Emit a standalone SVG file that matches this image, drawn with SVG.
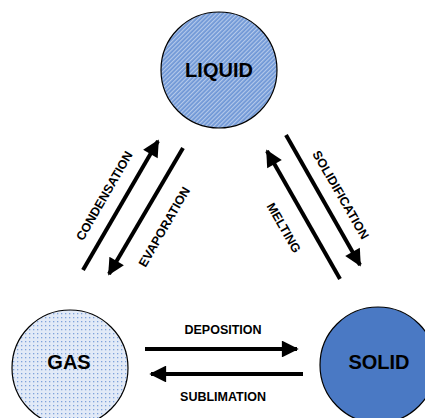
<svg xmlns="http://www.w3.org/2000/svg" width="425" height="418" viewBox="0 0 425 418">
<defs>
<pattern id="stripes" width="3" height="3" patternUnits="userSpaceOnUse" patternTransform="rotate(45)">
<rect width="3" height="3" fill="#6f97d6"/>
<rect width="1.2" height="3" fill="#b4c9ea"/>
</pattern>
<pattern id="dots" width="4" height="4" patternUnits="userSpaceOnUse">
<rect width="4" height="4" fill="#e2eaf7"/>
<rect x="1" y="1" width="1.3" height="1.3" fill="#7ea2db"/>
</pattern>
<marker id="ah" viewBox="0 0 10 10" refX="9" refY="5" markerWidth="5.5" markerHeight="4.2" markerUnits="strokeWidth" orient="auto">
<path d="M0,0 L10,5 L0,10 Z" fill="#000"/>
</marker>
<style>
.node circle{stroke:#000;stroke-width:1.2}
.nt{font-family:"Liberation Sans",Arial,sans-serif;font-weight:bold;font-size:20px;fill:#000;text-anchor:middle}
.lbl{font-family:"Liberation Sans",Arial,sans-serif;font-weight:bold;font-size:12.5px;fill:#000;text-anchor:middle}
.conn line{stroke:#000;stroke-width:4;marker-end:url(#ah)}
</style>
</defs>
<g id="liquid" class="node">
<circle cx="219" cy="70" r="58" fill="url(#stripes)"/>
<text class="nt" x="219" y="77">LIQUID</text>
</g>
<g id="gas" class="node">
<circle cx="70" cy="368" r="58" fill="url(#dots)"/>
<text class="nt" x="69" y="369">GAS</text>
</g>
<g id="solid" class="node">
<circle cx="378" cy="365" r="58" fill="#4a79c4"/>
<text class="nt" x="379" y="369">SOLID</text>
</g>
<g id="connectors" class="conn">
<line x1="83" y1="270" x2="158" y2="141"/>
<line x1="183" y1="148" x2="109" y2="274"/>
<line x1="340" y1="279" x2="267" y2="151"/>
<line x1="286" y1="135" x2="360" y2="265"/>
<line x1="145" y1="349" x2="297" y2="349"/>
<line x1="303" y1="374" x2="151" y2="374"/>
</g>
<g id="labels">
<text class="lbl" transform="translate(108,198) rotate(-60)">CONDENSATION</text>
<text class="lbl" transform="translate(168,229) rotate(-60)">EVAPORATION</text>
<text class="lbl" transform="translate(337,197) rotate(60)">SOLIDIFICATION</text>
<text class="lbl" transform="translate(280,230) rotate(60)">MELTING</text>
<text class="lbl" x="223" y="334">DEPOSITION</text>
<text class="lbl" x="223" y="401">SUBLIMATION</text>
</g>
</svg>
